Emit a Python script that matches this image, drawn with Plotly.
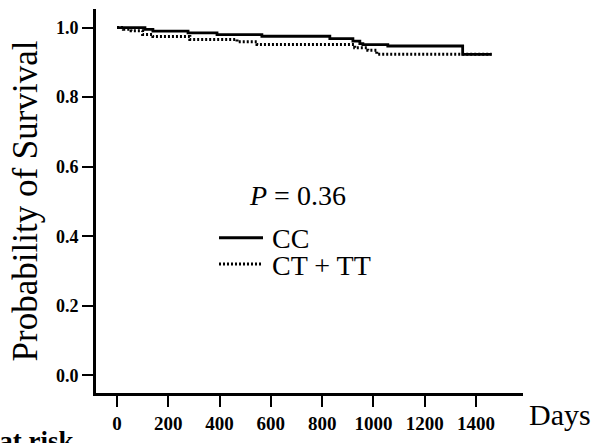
import plotly.graph_objects as go

# Kaplan-Meier step data
cc_days = [0, 109, 140, 277, 390, 565, 830, 920, 947, 959, 1056, 1348, 1461]
cc_surv = [1.0, 0.995, 0.990, 0.985, 0.980, 0.975, 0.968, 0.961, 0.954, 0.951, 0.947, 0.923, 0.923]

ct_days = [0, 25, 55, 100, 140, 284, 468, 546, 927, 978, 1013, 1461]
ct_surv = [1.0, 0.995, 0.991, 0.980, 0.974, 0.966, 0.959, 0.951, 0.942, 0.935, 0.923, 0.923]

x_ticks = [0, 200, 400, 600, 800, 1000, 1200, 1400]
y_ticks = [0.0, 0.2, 0.4, 0.6, 0.8, 1.0]

series_names = ["CC", "CT + TT"]
p_text = "<i>P</i> = 0.36"

SERIF = "Liberation Serif, Times New Roman, serif"

fig = go.Figure()
fig.add_trace(go.Scatter(x=ct_days, y=ct_surv, mode="lines", line_shape="hv",
                         line=dict(color="black", width=3, dash="2px,2px"),
                         name=series_names[1], showlegend=False, hoverinfo="skip"))
fig.add_trace(go.Scatter(x=cc_days, y=cc_surv, mode="lines", line_shape="hv",
                         line=dict(color="black", width=2.8),
                         name=series_names[0], showlegend=False, hoverinfo="skip"))

W, H = 593, 443
L, R, T, B = 96, 70, 9, 41

def px_x(p):
    return (p - L) / (W - L - R)

def px_y(p):
    return 1 - (p - T) / (H - T - B)

# legend drawn as swatches + labels
fig.add_shape(type="line", xref="paper", yref="paper",
              x0=px_x(219), x1=px_x(263), y0=px_y(243), y1=px_y(243),
              line=dict(color="black", width=3))
fig.add_shape(type="line", xref="paper", yref="paper",
              x0=px_x(219), x1=px_x(263), y0=px_y(270), y1=px_y(270),
              line=dict(color="black", width=3, dash="2px,2px"))

ann_font = dict(family=SERIF, size=28, color="black")
fig.add_annotation(x=px_x(270), y=px_y(244), xref="paper", yref="paper",
                   text=series_names[0], showarrow=False, xanchor="left", yanchor="middle",
                   font=ann_font)
fig.add_annotation(x=px_x(270), y=px_y(272), xref="paper", yref="paper",
                   text=series_names[1], showarrow=False, xanchor="left", yanchor="middle",
                   font=ann_font)
fig.add_annotation(x=px_x(297), y=px_y(200), xref="paper", yref="paper",
                   text=p_text, showarrow=False, xanchor="center", yanchor="middle",
                   font=ann_font)
fig.add_annotation(x=px_x(527), y=px_y(424), xref="paper", yref="paper",
                   text="Days", showarrow=False, xanchor="left", yanchor="middle",
                   font=dict(family=SERIF, size=30, color="black"))
fig.add_annotation(x=px_x(76), y=px_y(451), xref="paper", yref="paper",
                   text="<b>Number at risk</b>", showarrow=False, xanchor="right", yanchor="middle",
                   font=dict(family=SERIF, size=27, color="black"))

fig.update_layout(
    width=W, height=H,
    margin=dict(l=L, r=R, t=T, b=B),
    paper_bgcolor="white", plot_bgcolor="white",
    showlegend=False,
    xaxis=dict(range=[-81.9, 1583.3], tickvals=x_ticks, ticktext=[str(v) for v in x_ticks],
               showline=True, linecolor="black", linewidth=3, mirror=False,
               ticks="outside", ticklen=11, tickwidth=1.6, tickcolor="black",
               showgrid=False, zeroline=False,
               tickfont=dict(family=SERIF, size=19, color="black", weight="bold")),
    yaxis=dict(range=[-0.0506, 1.0534], tickvals=y_ticks, ticktext=[f"{v:.1f}" for v in y_ticks],
               showline=True, linecolor="black", linewidth=3, mirror=False,
               ticks="outside", ticklen=11, tickwidth=1.6, tickcolor="black",
               showgrid=False, zeroline=False,
               tickfont=dict(family=SERIF, size=18, color="black", weight="bold"),
               title=dict(text="Probability of Survival", standoff=8,
                          font=dict(family=SERIF, size=35, color="black"))),
)

fig.write_html("out.html", config={"displayModeBar": False},
               post_script="document.body.style.margin='0';document.body.style.overflow='hidden';")
